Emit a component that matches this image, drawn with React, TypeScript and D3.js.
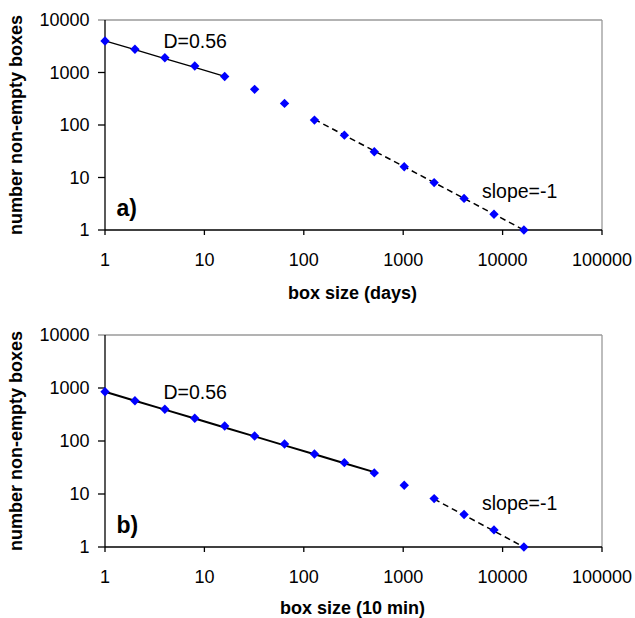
import { useEffect, useRef } from "react";
import * as d3 from "d3";

// box sizes (powers of two) shared by both panels
const boxSizes = [1, 2, 4, 8, 16, 32, 64, 128, 256, 512, 1024, 2048, 4096, 8192, 16384];
// a) box size in days
const countsDays = [3980, 2770, 1910, 1330, 840, 478, 258, 124, 64, 31, 16, 8, 4, 2, 1];
// b) box size in units of 10 min
const countsTenMin = [850, 575, 397, 268, 192, 124, 88, 57, 39, 25, 14.6, 8.2, 4.1, 2.1, 1];

const xTicks = [1, 10, 100, 1000, 10000, 100000];
const yTicks = [1, 10, 100, 1000, 10000];

// fitted power laws: count = c * size^exp, drawn between from..to
const fitDaysD = { from: 1, to: 16, c: 4000, exp: -0.56 };
const fitDaysSlope = { from: 128, to: 16384, c: 16384, exp: -1 };
const fitTenMinD = { from: 1, to: 512, c: 850, exp: -0.56 };
const fitTenMinSlope = { from: 2048, to: 16384, c: 16384, exp: -1 };

const FONT = "'Liberation Sans', Arial, sans-serif";

var W = 635, H = 618;
var left = 105, right = 602;

function App() {
    const ref = useRef(null);

    useEffect(() => {
        document.body.style.margin = "0";
        var svg = d3.select(ref.current);
        svg.selectAll("*").remove();

        drawPanel(svg, { top: 20, bottom: 230, titleY: 299, slopeY: 197.7, dWidth: 1.3 },
            countsDays, fitDaysD, fitDaysSlope, "a)", "box size (days)");
        drawPanel(svg, { top: 335, bottom: 547, titleY: 614, slopeY: 510, dWidth: 2 },
            countsTenMin, fitTenMinD, fitTenMinSlope, "b)", "box size (10 min)");
    }, []);

    return <svg ref={ref} width={W} height={H} style={{ display: "block", background: "#fff" }}></svg>;
}

function drawPanel(svg, lay, counts, fitD, fitSlope, tag, xTitle) {
    var top = lay.top, bottom = lay.bottom;
    var x = d3.scaleLog().domain([1, 100000]).range([left, right]);
    var y = d3.scaleLog().domain([1, 10000]).range([bottom, top]);
    var g = svg.append("g");

    // gray frame on top and right
    g.append("line").attr("x1", left - 7).attr("x2", right).attr("y1", top).attr("y2", top)
        .attr("stroke", "#9a9a9a").attr("stroke-width", 1.3);
    g.append("line").attr("x1", right).attr("x2", right).attr("y1", top).attr("y2", bottom)
        .attr("stroke", "#9a9a9a").attr("stroke-width", 1.3);

    // Y axis
    g.append("line").attr("x1", left).attr("x2", left).attr("y1", top).attr("y2", bottom)
        .attr("stroke", "#000").attr("stroke-width", 1.3);
    yTicks.forEach(function(t) {
        if (t !== 10000)
            g.append("line").attr("x1", left - 7).attr("x2", left).attr("y1", y(t)).attr("y2", y(t))
                .attr("stroke", "#000").attr("stroke-width", 1.3);
        g.append("text").text(String(t))
            .attr("x", left - 15.5).attr("y", y(t)).attr("dy", "0.35em")
            .attr("text-anchor", "end")
            .style("font-family", FONT).style("font-size", "18px").attr("fill", "#000");
    });

    // X axis
    g.append("line").attr("x1", left).attr("x2", right).attr("y1", bottom).attr("y2", bottom)
        .attr("stroke", "#000").attr("stroke-width", 1.3);
    xTicks.forEach(function(t) {
        g.append("line").attr("x1", x(t)).attr("x2", x(t)).attr("y1", bottom).attr("y2", bottom + 5)
            .attr("stroke", "#000").attr("stroke-width", 1.3);
        g.append("text").text(String(t))
            .attr("x", x(t)).attr("y", bottom + 36)
            .attr("text-anchor", "middle")
            .style("font-family", FONT).style("font-size", "18px").attr("fill", "#000");
    });

    // titles
    g.append("text").text(xTitle)
        .attr("x", (left + right) / 2 - 1).attr("y", lay.titleY)
        .attr("text-anchor", "middle")
        .style("font-family", FONT).style("font-size", "18px").style("font-weight", "bold");
    g.append("text").text("number non-empty boxes")
        .attr("transform", "translate(16," + ((top + bottom) / 2) + ") rotate(-90)")
        .attr("dy", "0.35em")
        .attr("text-anchor", "middle")
        .style("font-family", FONT).style("font-size", "18px").style("font-weight", "bold");

    // fitted lines
    var line = d3.line().x(function(d) { return x(d[0]); }).y(function(d) { return y(d[1]); });
    function fitPoints(f) {
        return boxSizes.filter(function(s) { return s >= f.from && s <= f.to; })
            .map(function(s) { return [s, f.c * Math.pow(s, f.exp)]; });
    }
    g.append("path").datum(fitPoints(fitD))
        .attr("fill", "none").attr("stroke", "#000").attr("stroke-width", lay.dWidth)
        .attr("d", line);
    g.append("path").datum(fitPoints(fitSlope))
        .attr("fill", "none").attr("stroke", "#000").attr("stroke-width", 1.5)
        .attr("stroke-dasharray", "6,4")
        .attr("d", line);

    // points
    var diamond = d3.symbol().type(d3.symbolSquare).size(44);
    g.selectAll(".pt").data(boxSizes).enter().append("path")
        .attr("d", diamond)
        .attr("transform", function(d, i) { return "translate(" + x(d) + "," + y(counts[i]) + ") rotate(45)"; })
        .attr("fill", "#0000ff");

    // annotations
    g.append("text").text("D=0.56")
        .attr("x", 163.5).attr("y", y(fitD.c) + 7.5)
        .style("font-family", FONT).style("font-size", "19.5px");
    g.append("text").text("slope=-1")
        .attr("x", 482).attr("y", lay.slopeY)
        .style("font-family", FONT).style("font-size", "19.5px");
    g.append("text").text(tag)
        .attr("x", 116.5).attr("y", bottom - 14)
        .style("font-family", FONT).style("font-size", "23px").style("font-weight", "bold");
}

export default App;
